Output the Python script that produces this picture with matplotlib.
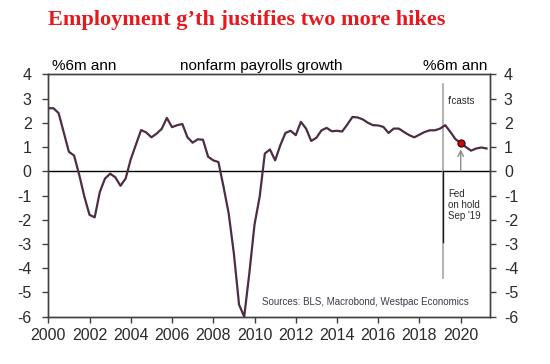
"""Nonfarm payrolls growth, %6m annualised, with forecast marker."""

import matplotlib

matplotlib.use("Agg")
import matplotlib.pyplot as plt
import numpy as np

plt.rcParams["font.family"] = ["Liberation Sans", "DejaVu Sans"]
plt.rcParams["axes.unicode_minus"] = False

# quarterly, starting 2000 Q1
start_year = 2000.0
payrolls = [
    2.6, 2.6, 2.4, 1.6, 0.8, 0.65, -0.15, -1.05,
    -1.8, -1.9, -0.85, -0.3, -0.1, -0.25, -0.6, -0.3,
    0.5, 1.1, 1.7, 1.6, 1.4, 1.55, 1.75, 2.2,
    1.82, 1.9, 1.95, 1.4, 1.18, 1.32, 1.3, 0.6,
    0.45, 0.38, -0.65, -1.75, -3.4, -5.5, -6.0, -4.2,
    -2.2, -1.05, 0.73, 0.9, 0.45, 1.07, 1.58, 1.67,
    1.49, 2.04, 1.76, 1.25, 1.38, 1.69, 1.79, 1.65,
    1.67, 1.64, 1.93, 2.24, 2.22, 2.14, 2.0, 1.9,
    1.89, 1.83, 1.58, 1.76, 1.76, 1.62, 1.49, 1.4,
    1.51, 1.62, 1.69, 1.69, 1.76, 1.9, 1.62, 1.32,
    1.17, 1.0, 0.85, 0.94, 0.98, 0.94,
]
years = start_year + np.arange(len(payrolls)) / 4

forecast_start = 2019.15
fed_hold_year = 2020.0
fed_hold_value = 1.17

x_ticks = list(range(2000, 2021, 2))
y_ticks = list(range(-6, 5))

line_col = "#4b2e44"
text_col = "#2b2b2b"
spine_col = "#404040"

fig = plt.figure(figsize=(5.5, 3.64), dpi=100)
ax = fig.add_axes([48.3 / 550, 47.3 / 364, 441.7 / 550, 242.4 / 364])

ax.axhline(0, color="black", linewidth=1.0, zorder=1)
ax.plot([forecast_start, forecast_start], [3.6, -4.4], color="#a6a6a6", linewidth=1.2, zorder=2)
ax.plot([forecast_start, forecast_start], [0, -2.9], color="#1a1a1a", linewidth=1.0, zorder=2)
ax.plot(years, payrolls, color=line_col, linewidth=1.6, zorder=3)
ax.plot([fed_hold_year], [fed_hold_value], "o", color="#e00000",
        markeredgecolor="#3a1010", markersize=5, zorder=4)
ax.annotate("", xy=(fed_hold_year, 1.02), xytext=(fed_hold_year, -0.1),
            arrowprops=dict(arrowstyle="->", color="#8c8c8c", lw=1.0), zorder=3)

ax.text(2019.38, 2.9, "f'casts", fontsize=7, color=text_col, va="center", ha="left")
ax.text(2019.38, -0.72, "Fed\non hold\nSep '19", fontsize=7, color=text_col,
        va="top", ha="left", linespacing=1.15)
ax.text(2010.36, -5.4, "Sources: BLS, Macrobond, Westpac Economics",
        fontsize=7, color="#3a3a50", va="center", ha="left")

ax.set_xlim(2000, 2021.42)
ax.set_ylim(-6, 4)
ax.set_xticks(x_ticks)
ax.set_xticklabels([str(t) for t in x_ticks])
ax.set_yticks(y_ticks)
ax.set_yticklabels([str(t) for t in y_ticks])
ax.tick_params(axis="x", direction="out", length=4, width=1, pad=4,
               labelsize=11.5, colors=spine_col, labelcolor=text_col)
ax.tick_params(axis="y", direction="out", length=4, width=1, pad=8,
               labelsize=11.5, colors=spine_col, labelcolor=text_col)

ax2 = ax.twinx()
ax2.set_ylim(-6, 4)
ax2.set_yticks(y_ticks)
ax2.set_yticklabels([str(t) for t in y_ticks])
ax2.tick_params(axis="y", direction="out", length=4, width=1, pad=6,
                labelsize=11.5, colors=spine_col, labelcolor=text_col)

for a in (ax, ax2):
    for s in a.spines.values():
        s.set_color(spine_col)
        s.set_linewidth(1.0)

fig.text(52 / 550, 294 / 364, "%6m ann", fontsize=11, color="black", ha="left", va="baseline")
fig.text(261.5 / 550, 294 / 364, "nonfarm payrolls growth", fontsize=11, color="black",
         ha="center", va="baseline")
fig.text(487.5 / 550, 294 / 364, "%6m ann", fontsize=11, color="black", ha="right", va="baseline")

fig.text(48 / 550, 339 / 364, "Employment g\u2019th justifies two more hikes",
         fontsize=16, fontweight="bold", family=["Liberation Serif", "DejaVu Serif"],
         color="#e8191e", ha="left", va="baseline")

fig.savefig("out.png", dpi=100)
plt.close(fig)
